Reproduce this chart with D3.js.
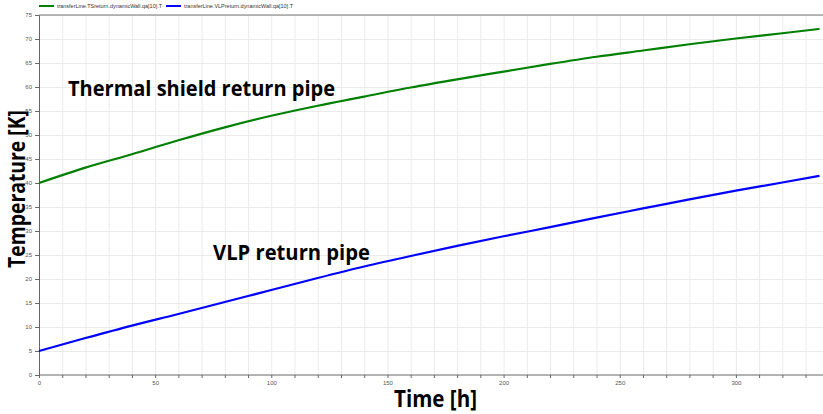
<!DOCTYPE html>
<html lang="en">
<head>
  <meta charset="UTF-8">
  <title>Transfer line return pipe temperatures</title>
  <style>
    html, body { margin: 0; background: #fff; }
    svg { display: block; }
    .axis text { font-family: 'Liberation Sans', Arial, sans-serif; font-size: 6px; fill: #555; }
    .axis path, .axis line { stroke: #666; }
    .grid line { stroke: #ebebeb; }
    .grid path { display: none; }
    .big { font-family: 'Open Sans', sans-serif; font-weight: 700; fill: #000; }
    .legend text { font-family: 'Liberation Sans', Arial, sans-serif; font-size: 6px; fill: #333; }
  </style>
</head>
<body>
<svg width="823" height="414"></svg>
<script src="https://d3js.org/d3.v7.min.js"></script>
<script>

// time [h]
const hours = [0, 20, 40, 60, 80, 100, 120, 140, 160, 180, 200, 220, 240, 260, 280, 300, 320, 336];
// transferLine.TSreturn.dynamicWall.qa[10].T
const tsReturn = [40, 43.2, 46.0, 48.9, 51.6, 54.0, 56.1, 58.0, 59.9, 61.6, 63.2, 64.8, 66.3, 67.6, 68.9, 70.1, 71.2, 72.1];
// transferLine.VLPreturn.dynamicWall.qa[10].T
const vlpReturn = [5, 7.7, 10.3, 12.7, 15.2, 17.7, 20.2, 22.6, 24.8, 26.9, 28.9, 30.8, 32.8, 34.7, 36.6, 38.4, 40.1, 41.5];

const seriesNames = ["transferLine.TSreturn.dynamicWall.qa[10].T", "transferLine.VLPreturn.dynamicWall.qa[10].T"];
const seriesColors = ["#008000", "#0000ff"];
const xTickLabels = [0, 50, 100, 150, 200, 250, 300];
const yTickLabels = [0, 5, 10, 15, 20, 25, 30, 35, 40, 45, 50, 55, 60, 65, 70, 75];

const svg = d3.select("svg"),
    margin = {top: 15, right: 0, bottom: 39, left: 39},
    width = 823 - margin.left - margin.right,
    height = 414 - margin.top - margin.bottom;

const x = d3.scaleLinear().domain([0, 336]).range([0, 780.5]);
const y = d3.scaleLinear().domain([0, 75]).range([height, 0]);

const g = svg.append("g")
    .attr("transform", "translate(" + margin.left + "," + margin.top + ")");

// grid
g.append("g")
    .attr("class", "grid")
    .call(d3.axisBottom(x).tickValues(d3.range(10, 337, 10)).tickSize(height).tickFormat(""));
g.append("g")
    .attr("class", "grid")
    .call(d3.axisLeft(y).tickValues(yTickLabels.slice(1)).tickSize(-width).tickFormat(""));

// top frame line
g.append("line")
    .attr("x1", 0).attr("x2", width)
    .attr("y1", 0).attr("y2", 0)
    .attr("stroke", "#777");

// axes
g.append("g")
    .attr("class", "axis")
    .attr("transform", "translate(0," + height + ")")
    .call(d3.axisBottom(x).tickValues(d3.range(0, 337, 10)).tickSize(3).tickSizeOuter(0)
        .tickFormat(d => xTickLabels.includes(d) ? d : ""))
    .call(a => a.select(".domain").attr("d", "M0,0H" + width));

g.append("g")
    .attr("class", "axis")
    .call(d3.axisLeft(y).tickValues(yTickLabels).tickSize(4).tickSizeOuter(0));

// lines
const line = d3.line()
    .x((d, i) => x(hours[i]))
    .y(d => y(d))
    .curve(d3.curveMonotoneX);

[tsReturn, vlpReturn].forEach((s, i) => {
  g.append("path")
      .datum(s)
      .attr("fill", "none")
      .attr("stroke", seriesColors[i])
      .attr("stroke-width", 2.2)
      .attr("d", line);
});

// legend
const legend = svg.append("g").attr("class", "legend");
const legendX = [39, 166];
const legendW = [105, 109];
seriesNames.forEach((n, i) => {
  legend.append("line")
      .attr("x1", legendX[i]).attr("x2", legendX[i] + 15)
      .attr("y1", 6).attr("y2", 6)
      .attr("stroke", seriesColors[i]).attr("stroke-width", 2);
  legend.append("text")
      .attr("x", legendX[i] + 18).attr("y", 8.2)
      .attr("textLength", legendW[i])
      .attr("lengthAdjust", "spacingAndGlyphs")
      .text(n);
});

// annotations and axis titles
svg.append("text").attr("class", "big")
    .attr("x", 68).attr("y", 96)
    .attr("textLength", 267)
    .attr("lengthAdjust", "spacingAndGlyphs")
    .style("font-size", "21px")
    .text("Thermal shield return pipe");
svg.append("text").attr("class", "big")
    .attr("x", 213).attr("y", 260)
    .attr("textLength", 157)
    .attr("lengthAdjust", "spacingAndGlyphs")
    .style("font-size", "21px")
    .text("VLP return pipe");
svg.append("text").attr("class", "big")
    .attr("x", 394).attr("y", 407)
    .attr("textLength", 83)
    .attr("lengthAdjust", "spacingAndGlyphs")
    .style("font-size", "23px")
    .text("Time [h]");
svg.append("text").attr("class", "big")
    .attr("transform", "translate(25,268) rotate(-90)")
    .attr("textLength", 158)
    .attr("lengthAdjust", "spacingAndGlyphs")
    .style("font-size", "23px")
    .text("Temperature [K]");

</script>
</body>
</html>
